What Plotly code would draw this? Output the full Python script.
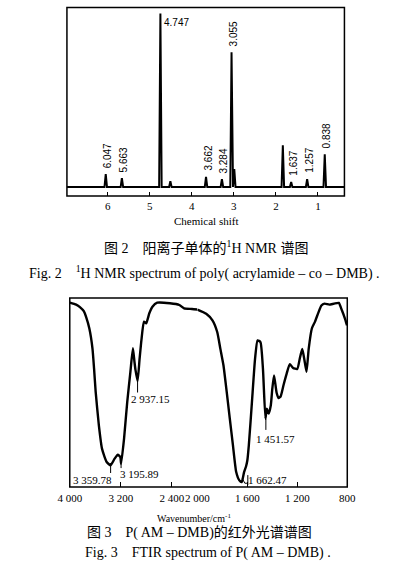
import plotly.graph_objects as go

# ---------------- data ----------------
# 1H NMR: peak positions (ppm) and heights (relative intensity)
nmr_peak_shift = [6.047, 5.663, 4.747, 4.51, 3.662, 3.284, 3.055, 2.99, 1.835, 1.637, 1.257, 0.838]
nmr_peak_height = [7.2, 5.0, 96.7, 3.3, 5.6, 4.4, 75.0, 10.0, 23.3, 2.8, 4.4, 18.3]
nmr_baseline_ends = [7.0, 0.3]
nmr_vertical_labels = ["6.047", "5.663", "3.662", "3.284", "3.055", "1.637", "1.257", "0.838"]
nmr_horizontal_label = "4.747"
nmr_ticks = [6, 5, 4, 3, 2, 1]

# FTIR: wavenumber (cm-1) and transmittance (%)
ftir_wavenumber = [4000, 3900, 3841, 3780, 3743, 3693, 3644, 3619, 3594, 3544, 3495, 3421,
                   3360, 3297, 3247, 3208, 3195, 3149, 3099, 3050, 3010, 2985, 2970, 2937,
                   2905, 2876, 2837, 2802, 2753, 2704, 2629, 2430, 2282, 2208, 2085, 2000,
                   1929, 1879, 1841, 1816, 1791, 1765, 1740, 1715, 1689, 1664, 1645, 1626,
                   1610, 1600, 1588, 1563, 1538, 1518, 1495, 1475, 1455, 1444, 1429, 1412,
                   1400, 1386, 1366, 1350, 1333, 1310, 1285, 1260, 1234, 1200, 1180, 1160,
                   1140, 1126, 1109, 1083, 1058, 1033, 1007, 982, 944, 906, 868, 843, 818, 802]
ftir_transmittance = [97.6, 96.5, 95.2, 93.0, 89.9, 83.8, 73.2, 62.6, 50.3, 32.6, 20.3, 13.2,
                      11.5, 15.0, 17.1, 15.9, 12.3, 25.6, 45.0, 60.8, 73.4, 66.0, 62.0, 56.0,
                      68.0, 78.0, 87.5, 86.6, 91.9, 95.4, 97.5, 97.2, 96.3, 94.5, 94.2, 93.9,
                      91.7, 88.2, 82.0, 73.2, 64.4, 50.3, 36.1, 22.0, 7.9, 3.5, 2.6, 7.9,
                      11.0, 14.0, 22.0, 45.0, 67.9, 77.6, 76.7, 62.6, 36.1, 41.4, 38.8, 43.2,
                      52.0, 59.0, 50.0, 47.0, 48.0, 54.0, 60.0, 65.0, 63.0, 62.5, 68.0, 73.0,
                      66.0, 61.0, 73.0, 84.0, 87.5, 92.0, 96.0, 97.0, 96.5, 97.0, 97.4, 93.5, 89.0, 85.5]
ftir_peak_labels = ["3 359.78", "3 195.89", "2 937.15", "1 662.47", "1 451.57"]
ftir_peak_positions = [3359.78, 3195.89, 2937.15, 1662.47, 1451.57]
ftir_ticks_high = [4000, 3200, 2400]
ftir_ticks_high_text = ["4 000", "3 200", "2 400"]
ftir_ticks_low = [2000, 1600, 1200, 800]
ftir_ticks_low_text = ["2 000", "1 600", "1 200", "800"]

# ---------------- styles ----------------
W, H = 397, 586
SERIF = "Liberation Serif, Times New Roman, serif"
SANS = "Liberation Sans, Arial, sans-serif"
CJK = "Liberation Serif, Noto Sans CJK SC, serif"
PEAK_HALF_WIDTH = 0.03


def px_x(p):
    return p / W


def px_y(p):
    return 1 - p / H


# build NMR stick spectrum from peak table
nmr_x = [nmr_baseline_ends[0]]
nmr_y = [0]
for s, h in sorted(zip(nmr_peak_shift, nmr_peak_height), reverse=True):
    nmr_x += [s + PEAK_HALF_WIDTH, s, s - PEAK_HALF_WIDTH]
    nmr_y += [0, h, 0]
nmr_x.append(nmr_baseline_ends[1])
nmr_y.append(0)

# split FTIR into the two scale segments
hi_x = [w for w in ftir_wavenumber if w >= 2000]
hi_y = [t for w, t in zip(ftir_wavenumber, ftir_transmittance) if w >= 2000]
lo_x = [w for w in ftir_wavenumber if w <= 2000]
lo_y = [t for w, t in zip(ftir_wavenumber, ftir_transmittance) if w <= 2000]

fig = go.Figure()
fig.add_trace(go.Scatter(x=nmr_x, y=nmr_y, mode="lines", xaxis="x", yaxis="y",
                         line=dict(color="black", width=2), hoverinfo="skip"))
fig.add_trace(go.Scatter(x=hi_x, y=hi_y, mode="lines", xaxis="x2", yaxis="y2",
                         line=dict(color="black", width=2.4, shape="spline", smoothing=0.5),
                         hoverinfo="skip"))
fig.add_trace(go.Scatter(x=lo_x, y=lo_y, mode="lines", xaxis="x3", yaxis="y2",
                         line=dict(color="black", width=2.4, shape="spline", smoothing=0.5),
                         hoverinfo="skip"))

nmr_dom_x = [px_x(58), px_x(351)]
nmr_dom_y = [px_y(196), px_y(7.5)]
split = px_x(195.7)
ftir_dom_y = [px_y(487), px_y(298)]
ftir_left, ftir_right = px_x(61), px_x(354)

tickfont = dict(family=SERIF, size=11, color="black")
fig.update_layout(
    width=W, height=H, margin=dict(l=0, r=0, t=0, b=0),
    paper_bgcolor="white", plot_bgcolor="rgba(0,0,0,0)", showlegend=False,
    xaxis=dict(domain=nmr_dom_x, range=[6.97, 0.37], anchor="y", tickvals=nmr_ticks,
               ticks="inside", ticklen=4, tickwidth=1, tickcolor="black",
               showgrid=False, zeroline=False, showline=False, tickfont=tickfont,
               ticklabelstandoff=2),
    yaxis=dict(domain=nmr_dom_y, range=[-5, 100], anchor="x", visible=False),
    xaxis2=dict(domain=[ftir_left, split], range=[4000, 2000], anchor="y2",
                tickvals=ftir_ticks_high, ticktext=ftir_ticks_high_text,
                ticks="inside", ticklen=5, tickwidth=1, tickcolor="black",
                showgrid=False, zeroline=False, showline=False, tickfont=tickfont,
                ticklabelstandoff=3),
    xaxis3=dict(domain=[split, ftir_right], range=[2000, 800], anchor="y2",
                tickvals=ftir_ticks_low, ticktext=ftir_ticks_low_text,
                ticks="inside", ticklen=5, tickwidth=1, tickcolor="black",
                showgrid=False, zeroline=False, showline=False, tickfont=tickfont,
                ticklabelstandoff=3),
    yaxis2=dict(domain=ftir_dom_y, range=[0, 100], anchor="x2", visible=False),
)

shapes = [
    dict(type="rect", xref="paper", yref="paper", x0=nmr_dom_x[0], x1=nmr_dom_x[1],
         y0=nmr_dom_y[0], y1=nmr_dom_y[1], line=dict(color="black", width=1.5)),
    dict(type="rect", xref="paper", yref="paper", x0=ftir_left, x1=ftir_right,
         y0=ftir_dom_y[0], y1=ftir_dom_y[1], line=dict(color="black", width=1.5)),
]

annotations = []
# NMR peak labels
peak_lookup = dict(zip(nmr_peak_shift, nmr_peak_height))
for lab in nmr_vertical_labels:
    s = float(lab)
    annotations.append(dict(x=s, y=peak_lookup[s], xref="x", yref="y", text=lab,
                            textangle=-90, showarrow=False, xanchor="center", yanchor="bottom",
                            xshift=2, yshift=4, font=dict(family=SANS, size=10, color="black")))
s = float(nmr_horizontal_label)
annotations.append(dict(x=s, y=peak_lookup[s], xref="x", yref="y", text=nmr_horizontal_label,
                        showarrow=False, xanchor="left", yanchor="top", xshift=2, yshift=-2,
                        font=dict(family=SANS, size=10, color="black")))

# FTIR peak labels and leader lines
ftir_label_style = {
    3359.78: dict(xanchor="right", xshift=3, ylab=3.7, lead=(12.7, 7.4)),
    3195.89: dict(xanchor="left", xshift=-3, ylab=6.9, lead=(15.3, 10.0)),
    2937.15: dict(xanchor="left", xshift=-9, ylab=46.6, lead=(56.0, 50.0)),
    1662.47: dict(xanchor="left", xshift=6, ylab=3.7, lead=None),
    1451.57: dict(xanchor="left", xshift=-12, ylab=25.4, lead=(36.0, 30.2)),
}
for lab, pos in zip(ftir_peak_labels, ftir_peak_positions):
    st = ftir_label_style[pos]
    xr = "x2" if pos > 2000 else "x3"
    annotations.append(dict(x=pos, y=st["ylab"], xref=xr, yref="y2", text=lab,
                            showarrow=False, xanchor=st["xanchor"], yanchor="middle",
                            xshift=st["xshift"], font=dict(family=SERIF, size=11, color="black")))
    if st["lead"] is not None:
        shapes.append(dict(type="line", xref=xr, yref="y2", x0=pos, x1=pos,
                           y0=st["lead"][0], y1=st["lead"][1], line=dict(color="black", width=1)))
# leader for 1662.47 (offset to the right with a small hook)
shapes.append(dict(type="line", xref="x3", yref="y2", x0=1596, x1=1596, y0=6.3, y1=1.0,
                   line=dict(color="black", width=1)))
shapes.append(dict(type="line", xref="x3", yref="y2", x0=1640, x1=1620, y0=4.5, y1=2.0,
                   line=dict(color="black", width=1)))
shapes.append(dict(type="line", xref="x3", yref="y2", x0=1620, x1=1596, y0=2.0, y1=2.0,
                   line=dict(color="black", width=1)))


def caption(x, y, text, family, size):
    return dict(x=px_x(x), y=px_y(y), xref="paper", yref="paper", text=text,
                showarrow=False, xanchor="center", yanchor="middle",
                font=dict(family=family, size=size, color="black"))


annotations += [
    caption(205, 221, "Chemical shift", SERIF, 11),
    caption(205, 247, "图 2　阳离子单体的<sup>1</sup>H NMR 谱图", CJK, 14),
    caption(203.5, 272, "Fig. 2　<sup>1</sup>H NMR spectrum of poly( acrylamide – co – DMB) .",
            SERIF, 14),
    caption(192, 518, "Wavenumber/cm<sup>-1</sup>", SERIF, 10),
    caption(197.5, 533, "图 3　P( AM – DMB)的红外光谱谱图", CJK, 14),
    caption(206.5, 553, "Fig. 3　FTIR spectrum of P( AM – DMB) .", SERIF, 14),
]

fig.update_layout(shapes=shapes, annotations=annotations)
fig.write_html("out.html",
               config={"displayModeBar": False},
               post_script="document.body.style.margin='0';document.body.style.overflow='hidden';")
